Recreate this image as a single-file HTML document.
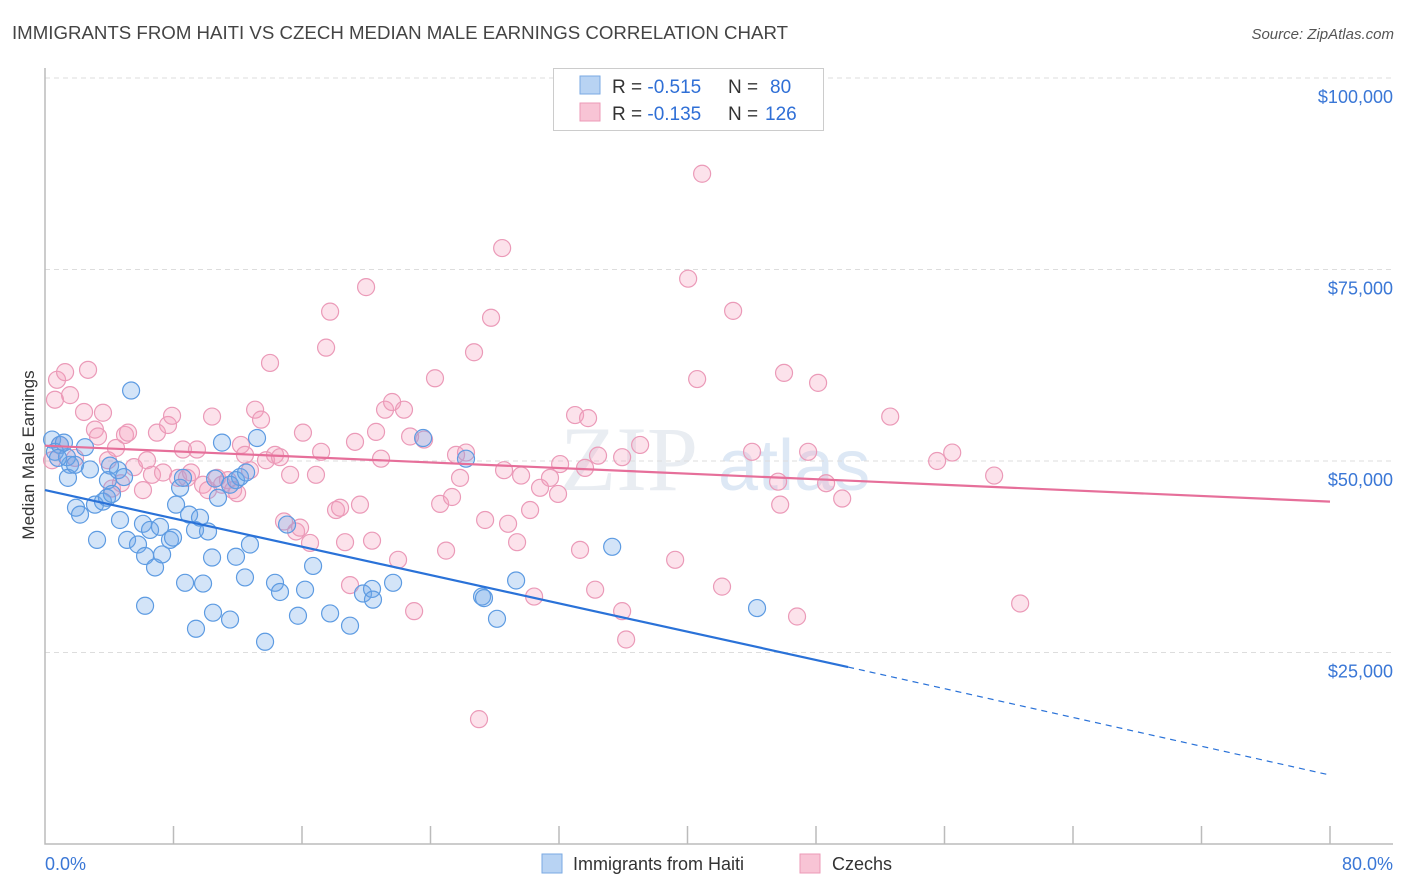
<!DOCTYPE html>
<html><head><meta charset="utf-8">
<style>
body{margin:0;background:#fff;font-family:"Liberation Sans",sans-serif;}
#wrap{position:relative;width:1406px;height:892px;overflow:hidden;}
svg{position:absolute;left:0;top:0;}
</style></head>
<body>
<div id="wrap">
<svg id="chart" width="1406" height="892">
<text x="12" y="39" font-size="18" fill="#444" textLength="776" lengthAdjust="spacingAndGlyphs">IMMIGRANTS FROM HAITI VS CZECH MEDIAN MALE EARNINGS CORRELATION CHART</text>
<text x="1394" y="39" font-size="15" fill="#555" font-style="italic" text-anchor="end">Source: ZipAtlas.com</text>
<text x="560" y="490" font-size="92" fill="#e9edf2" font-family="Liberation Serif">ZIP</text>
<text x="718" y="490" font-size="72" fill="#dde8f5">atlas</text>
<g id="grid"></g>
<g id="axes"></g>
<g id="pts"></g>
<g id="lines"></g>
<text transform="translate(34,455) rotate(-90)" font-size="17" fill="#333" text-anchor="middle">Median Male Earnings</text>
<g>
<rect x="553.5" y="68.5" width="270" height="62" fill="#fff" stroke="#ccc"/>
<rect x="580" y="76" width="20" height="18" fill="#b8d3f3" stroke="#7aa9e3"/>
<rect x="580" y="103" width="20" height="18" fill="#f8c4d5" stroke="#ec9ab7"/>
<text x="612" y="93" font-size="19" fill="#333">R = <tspan fill="#2f6fd6">-0.515</tspan><tspan x="728">N = </tspan><tspan x="770" fill="#2f6fd6">80</tspan></text>
<text x="612" y="120" font-size="19" fill="#333">R = <tspan fill="#2f6fd6">-0.135</tspan><tspan x="728">N = </tspan><tspan x="765" fill="#2f6fd6">126</tspan></text>
</g>
<g>
<rect x="542" y="854" width="20" height="19" fill="#b8d3f3" stroke="#7aa9e3"/>
<text x="573" y="870" font-size="18" fill="#333">Immigrants from Haiti</text>
<rect x="800" y="854" width="20" height="19" fill="#f8c4d5" stroke="#ec9ab7"/>
<text x="832" y="870" font-size="18" fill="#333">Czechs</text>
</g>
</svg>
</div>
<script>
const xTickLabels=["0.0%","80.0%"];
const yTicks=[25000,50000,75000,100000];
const yTickLabels=["$25,000","$50,000","$75,000","$100,000"];
const haitiX=[0.44,0.93,0.62,1.56,1.37,2.80,1.43,2.49,4.05,3.92,4.55,5.36,1.93,2.18,3.24,3.11,3.61,3.86,4.67,5.11,5.79,6.10,6.23,6.54,6.85,7.16,7.29,7.78,7.97,8.16,8.41,8.59,8.72,8.97,9.34,9.40,9.65,9.84,10.15,10.40,10.46,10.77,11.02,11.52,11.89,11.89,12.14,12.45,12.76,13.20,13.70,14.32,14.63,15.07,15.75,16.19,16.69,17.75,18.99,19.80,20.36,20.42,21.67,23.54,26.21,27.21,27.33,28.14,29.33,35.31,44.33,6.23,10.59,11.52,12.52,4.92,4.17,1.87,0.81,1.18];
const haitiY=[52.8,52.1,51.2,49.5,50.5,48.9,47.8,51.8,49.4,47.5,48.8,59.2,43.9,43.0,39.7,44.3,44.7,45.2,42.3,39.7,39.1,41.8,37.6,41.0,36.1,41.4,37.8,39.7,40.0,44.3,46.5,47.8,34.1,43.0,41.0,28.1,42.6,34.0,40.8,37.4,30.2,45.2,52.4,29.3,47.5,37.5,47.9,34.8,39.1,53.0,26.4,34.1,32.9,41.7,29.8,33.2,36.3,30.1,28.5,32.7,33.3,31.9,34.1,53.0,50.3,32.3,32.1,29.4,34.4,38.8,30.8,31.1,47.7,46.9,48.5,47.9,45.7,49.5,50.4,52.4];
const czechX=[0.44,0.75,0.62,0.93,1.25,1.56,1.87,2.43,2.68,3.11,3.30,3.61,3.92,4.17,4.42,4.73,4.98,5.17,5.54,6.10,6.35,6.66,6.97,7.35,7.66,7.91,8.28,8.59,8.84,9.09,9.46,9.84,10.15,10.40,10.71,11.02,11.39,11.71,11.96,12.20,12.45,12.76,13.08,13.45,13.76,14.01,14.32,14.63,14.88,15.26,15.63,15.88,16.06,16.50,16.87,17.19,17.50,17.75,18.12,18.37,18.68,18.99,19.30,19.61,19.99,20.36,20.61,20.92,21.17,21.61,21.98,22.35,22.73,22.98,23.60,24.28,24.60,24.97,25.34,25.59,25.84,26.71,27.02,27.40,27.77,28.46,28.58,28.83,29.39,29.64,30.20,30.45,30.82,31.44,31.94,33.00,33.31,33.62,33.81,34.25,34.43,35.93,36.18,37.05,39.23,40.04,40.60,40.91,42.15,42.84,44.02,45.64,45.77,46.01,46.82,47.51,48.13,48.63,49.63,52.62,55.54,56.48,59.09,60.71,26.21,32.07,35.93];
const czechY=[50.1,60.6,58.0,52.1,61.6,58.6,50.4,56.4,61.9,54.1,53.2,56.3,50.1,46.4,51.7,47.1,53.4,53.7,49.2,46.2,50.1,48.2,53.7,48.5,54.7,55.9,47.8,51.5,47.8,48.5,51.5,46.9,46.2,55.8,47.8,46.9,47.5,46.2,45.8,52.1,50.8,48.8,56.7,55.4,50.1,62.8,50.8,50.5,42.1,48.2,40.8,41.3,53.7,39.3,48.2,51.2,64.8,69.5,43.6,43.9,39.4,33.8,52.5,44.3,72.7,39.6,53.8,50.3,56.7,57.7,37.1,56.7,53.2,30.4,52.8,60.8,44.4,38.3,45.3,50.8,47.8,64.2,16.3,42.3,68.7,77.8,48.8,41.8,39.4,48.1,43.6,32.3,46.5,47.8,45.7,56.0,38.4,49.1,55.6,33.2,50.7,30.4,26.7,52.1,37.1,73.8,60.7,87.5,33.6,69.6,51.2,47.3,44.3,61.5,29.7,51.2,60.2,47.1,45.1,55.8,50.0,51.1,48.1,31.4,51.1,49.6,50.5];
const haitiTrend=[[0,46.2],[50,23.1],[80,9.0]];
const czechTrend=[[0,52.0],[80,44.7]];

const X0=45,X1=1330,Y100=78,Y0=844;
const xs=p=>X0+p/80*(X1-X0);
const ys=v=>Y0-v/100000*(Y0-Y100);
const NS="http://www.w3.org/2000/svg";
function mk(tag,attrs,parent){const e=document.createElementNS(NS,tag);for(const k in attrs)e.setAttribute(k,attrs[k]);parent.appendChild(e);return e;}
const grid=document.getElementById('grid'),axes=document.getElementById('axes'),pts=document.getElementById('pts'),lines=document.getElementById('lines');
yTicks.forEach((v,i)=>{
  const l=mk('line',{x1:X0,x2:1393,y1:ys(v),y2:ys(v),stroke:'#ddd','stroke-dasharray':'5,4'},grid);
  
  
  const t=mk('text',{x:1393,y:ys(v)+25,'font-size':18,fill:'#3a77d6','text-anchor':'end'},grid);
  t.textContent=yTickLabels[i];
  
  
});
const ax=mk('path',{d:`M${X0} 68V${Y0}H1393`,stroke:'#bbb',fill:'none','stroke-width':1.5},axes);


for(let i=1;i<=10;i++){
  const tk=mk('line',{x1:xs(i*8),x2:xs(i*8),y1:826,y2:Y0,stroke:'#bbb','stroke-width':1.5},axes);
  
  
}
const t0=mk('text',{x:45,y:870,'font-size':18,fill:'#3a77d6'},axes);t0.textContent=xTickLabels[0];


const t1=mk('text',{x:1393,y:870,'font-size':18,fill:'#3a77d6','text-anchor':'end'},axes);t1.textContent=xTickLabels[1];


czechX.forEach((x,i)=>{
  const c=mk('circle',{cx:xs(x),cy:ys(czechY[i]*1000),r:8.5,fill:'rgba(244,160,190,0.3)',stroke:'#eb9ab8','stroke-width':1.2},pts);
  
  
});
haitiX.forEach((x,i)=>{
  const c=mk('circle',{cx:xs(x),cy:ys(haitiY[i]*1000),r:8.5,fill:'rgba(110,165,232,0.3)',stroke:'#5d9be2','stroke-width':1.2},pts);
  
  
});
const hb=mk('line',{x1:xs(haitiTrend[0][0]),y1:ys(haitiTrend[0][1]*1000),x2:xs(haitiTrend[1][0]),y2:ys(haitiTrend[1][1]*1000),stroke:'#2a72d8','stroke-width':2.2},lines);


const hd=mk('line',{x1:xs(haitiTrend[1][0]),y1:ys(haitiTrend[1][1]*1000),x2:xs(haitiTrend[2][0]),y2:ys(haitiTrend[2][1]*1000),stroke:'#2a72d8','stroke-width':1.2,'stroke-dasharray':'6,5'},lines);


const cl=mk('line',{x1:xs(czechTrend[0][0]),y1:ys(czechTrend[0][1]*1000),x2:xs(czechTrend[1][0]),y2:ys(czechTrend[1][1]*1000),stroke:'#e66f9a','stroke-width':2.2},lines);


</script>
</body></html>
